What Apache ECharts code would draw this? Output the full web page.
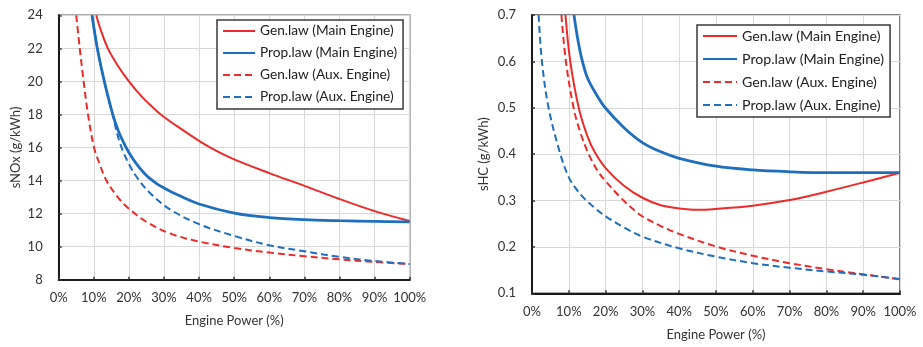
<!DOCTYPE html>
<html>
<head>
<meta charset="utf-8">
<script src="https://cdn.jsdelivr.net/npm/echarts@6/dist/echarts.min.js"></script>
<style>
html,body{margin:0;padding:0;background:#fff;}
#chart{width:923px;height:347px;}
</style>
</head>
<body>
<div id="chart"></div>
<script>
// Engine power (%) vs specific emissions
var xTicks = [0, 10, 20, 30, 40, 50, 60, 70, 80, 90, 100];
var seriesNames = ['Gen.law (Main Engine)', 'Prop.law (Main Engine)', 'Gen.law (Aux. Engine)', 'Prop.law (Aux. Engine)'];

// Left chart: sNOx (g/kWh)
var genMainNOx = [[10.7,24],[12,23.1],[14,22],[17,20.9],[20,20],[24,19],[28,18.2],[30,17.85],[34,17.25],[40,16.4],[44,15.9],[50,15.28],[60,14.45],[70,13.68],[80,12.88],[90,12.15],[100,11.55]];
var propMainNOx = [[9.5,24],[11.0,22],[13.0,20],[15.4,18],[17,17.0],[18.5,16.3],[20,15.7],[22,15.05],[25,14.3],[28,13.8],[30,13.55],[34,13.12],[40,12.58],[50,12.03],[60,11.76],[70,11.63],[80,11.57],[90,11.53],[100,11.5]];
var genAuxNOx = [[5.0,24],[6.0,22],[7.1,20],[8.35,18],[10.06,16],[11.5,15.1],[13.6,14],[17,12.95],[20,12.3],[25,11.5],[31.7,10.8],[40,10.31],[50,9.92],[60,9.64],[70,9.42],[80,9.23],[90,9.07],[100,8.95]];
var propAuxNOx = [[9.5,24],[11.0,22],[13.0,20],[15.4,17.95],[17.4,16.3],[20,15.0],[22.6,14.1],[26,13.25],[31.7,12.26],[40,11.36],[50,10.65],[60,10.08],[70,9.72],[80,9.38],[90,9.13],[100,8.95]];

// Right chart: sHC (g/kWh)
var genMainHC = [[9.1,0.7],[10.4,0.6],[12.7,0.5],[15,0.44],[17,0.405],[20,0.37],[25,0.332],[30,0.306],[35,0.29],[40,0.283],[45,0.28],[50,0.282],[60,0.289],[70,0.301],[80,0.319],[90,0.339],[100,0.36]];
var propMainHC = [[11.4,0.7],[12.5,0.645],[13.7,0.6],[15.2,0.562],[17.7,0.526],[19.9,0.5],[25,0.457],[30,0.425],[35,0.405],[40,0.391],[50,0.374],[60,0.366],[70,0.362],[80,0.36],[90,0.36],[100,0.36]];
var genAuxHC = [[8.0,0.7],[9.2,0.6],[11.3,0.5],[13,0.45],[15.4,0.4],[18,0.362],[20,0.342],[24.5,0.303],[28,0.278],[30,0.266],[35,0.245],[40,0.228],[50,0.201],[60,0.181],[70,0.165],[80,0.152],[90,0.141],[100,0.13]];
var propAuxHC = [[1.8,0.7],[2.7,0.6],[4.5,0.5],[7.7,0.4],[10,0.35],[12,0.325],[14.5,0.302],[17.2,0.283],[20,0.266],[25,0.242],[30,0.222],[40,0.197],[50,0.179],[60,0.165],[70,0.155],[80,0.147],[90,0.14],[100,0.131]];

var RED = '#ee2a2a', BLUE = '#1f6fbf';
var FONT = 'Lato';
var TXT = '#333333';

function xAxisCfg(gridIndex) {
  return {
    type: 'value', gridIndex: gridIndex, min: 0, max: 100, interval: 10,
    name: 'Engine Power (%)', nameLocation: 'middle', nameGap: 35,
    nameTextStyle: {fontFamily: FONT, fontSize: 13, color: TXT},
    axisLine: {show: true, lineStyle: {color: '#1a1a1a', width: 2}},
    axisTick: {show: true, inside: true, length: 3, lineStyle: {color: '#333', width: 1.5}},
    axisLabel: {formatter: '{value}%', fontFamily: FONT, fontSize: 13, color: TXT, margin: 12},
    splitLine: {show: true, lineStyle: {color: '#d9d9d9', width: 1}}
  };
}
function yAxisCfg(gridIndex, name, min, max, interval, dec, gap) {
  return {
    type: 'value', gridIndex: gridIndex, min: min, max: max, interval: interval,
    name: name, nameLocation: 'middle', nameGap: gap, nameRotate: 90,
    nameTextStyle: {fontFamily: FONT, fontSize: 13, color: TXT},
    axisLine: {show: true, lineStyle: {color: '#1a1a1a', width: 2}},
    axisTick: {show: true, inside: true, length: 3, lineStyle: {color: '#333', width: 1.5}},
    axisLabel: {fontFamily: FONT, fontSize: 13, color: TXT, margin: 16,
      formatter: function (v) { return v.toFixed(dec); }},
    splitLine: {show: true, lineStyle: {color: '#d9d9d9', width: 1}}
  };
}
function line(name, data, idx, color, dashed, width) {
  return {
    name: name, type: 'line', xAxisIndex: idx, yAxisIndex: idx, data: data,
    smooth: 0.35, symbol: 'none', clip: true,
    lineStyle: {color: color, width: width, type: dashed ? [7, 4] : 'solid'},
    itemStyle: {color: color}, emphasis: {disabled: true}
  };
}
function legendCfg(left, top, iw, gap, fs) {
  return {
    show: true, orient: 'vertical', left: left, top: top,
    data: seriesNames, itemWidth: iw, itemHeight: 14, itemGap: gap,
    padding: [4, 6, 5, 5], backgroundColor: '#ffffff',
    borderColor: '#3a3a3a', borderWidth: 1.5,
    itemStyle: {opacity: 0, borderWidth: 0},
    textStyle: {fontFamily: FONT, fontSize: fs, color: '#222'},
    selectedMode: false
  };
}

var chart = echarts.init(document.getElementById('chart'), null, {renderer: 'canvas'});
chart.setOption({
  animation: false,
  backgroundColor: '#ffffff',
  grid: [
    {left: 58.7, top: 15.3, width: 351, height: 264.4, show: true, borderColor: '#555', borderWidth: 1.5, backgroundColor: 'transparent'},
    {left: 532, top: 15, width: 368, height: 278.3, show: true, borderColor: '#555', borderWidth: 1.5, backgroundColor: 'transparent'}
  ],
  xAxis: [xAxisCfg(0), xAxisCfg(1)],
  yAxis: [
    yAxisCfg(0, 'sNOx (g/kWh)', 8, 24, 2, 0, 36),
    yAxisCfg(1, 'sHC (g/kWh)', 0.1, 0.7, 0.1, 1, 42)
  ],
  legend: [legendCfg(217, 20, 32, 8, 13.7), legendCfg(697, 25, 34, 9, 14.2)],
  series: [
    line(seriesNames[0], genMainNOx, 0, RED, false, 2),
    line(seriesNames[1], propMainNOx, 0, BLUE, false, 2.8),
    line(seriesNames[2], genAuxNOx, 0, RED, true, 2),
    line(seriesNames[3], propAuxNOx, 0, BLUE, true, 2),
    line(seriesNames[0], genMainHC, 1, RED, false, 2),
    line(seriesNames[1], propMainHC, 1, BLUE, false, 2.8),
    line(seriesNames[2], genAuxHC, 1, RED, true, 2),
    line(seriesNames[3], propAuxHC, 1, BLUE, true, 2)
  ]
});
</script>
</body>
</html>
